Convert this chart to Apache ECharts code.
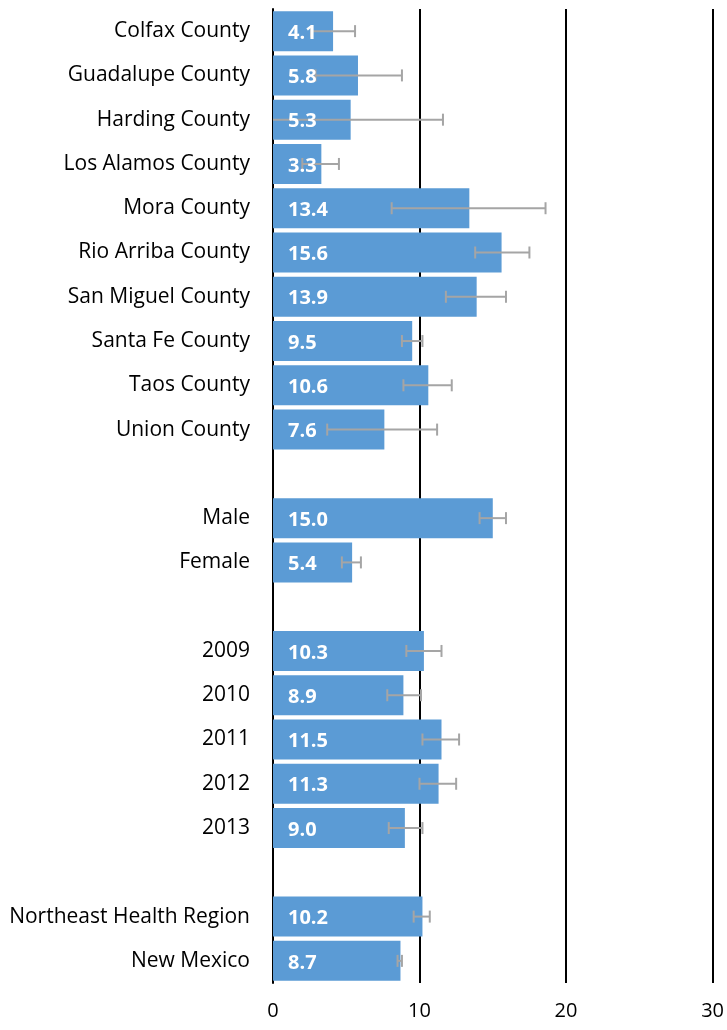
<!DOCTYPE html>
<html>
<head>
<meta charset="utf-8">
<script src="https://cdn.jsdelivr.net/npm/echarts@6/dist/echarts.min.js"></script>
<style>
  html, body { margin: 0; padding: 0; background: #fff; }
  #main { width: 727px; height: 1030px; }
</style>
</head>
<body>
<div id="main"></div>
<script>
// rows, top to bottom (blank strings are the gaps between groups)
var categories = [
  "Colfax County", "Guadalupe County", "Harding County", "Los Alamos County",
  "Mora County", "Rio Arriba County", "San Miguel County", "Santa Fe County",
  "Taos County", "Union County", " ",
  "Male", "Female", "  ",
  "2009", "2010", "2011", "2012", "2013", "   ",
  "Northeast Health Region", "New Mexico"
];
var values = [
  4.1, 5.8, 5.3, 3.3, 13.4, 15.6, 13.9, 9.5, 10.6, 7.6, null,
  15.0, 5.4, null,
  10.3, 8.9, 11.5, 11.3, 9.0, null,
  10.2, 8.7
];
// 95% confidence limits
var lower = [
  2.6, 2.9, 0, 2.0, 8.1, 13.8, 11.8, 8.8, 8.9, 3.7, null,
  14.1, 4.7, null,
  9.1, 7.8, 10.2, 10.0, 7.9, null,
  9.6, 8.5
];
var upper = [
  5.6, 8.8, 11.6, 4.5, 18.6, 17.5, 15.9, 10.2, 12.2, 11.2, null,
  15.9, 6.0, null,
  11.5, 10.1, 12.7, 12.5, 10.2, null,
  10.7, 8.8
];
var xTicks = [0, 10, 20, 30];

var FONT = "Open Sans";

var errData = categories.map(function (c, i) {
  return lower[i] == null ? [i, null, null] : [i, lower[i], upper[i]];
});

var chart = echarts.init(document.getElementById("main"));
chart.setOption({
  animation: false,
  grid: { left: 273, right: 14, top: 9, bottom: 47 },
  xAxis: {
    type: "value",
    min: xTicks[0],
    max: xTicks[xTicks.length - 1],
    interval: 10,
    axisLine: { show: false },
    axisTick: { show: false },
    axisLabel: { color: "#000", fontFamily: FONT, fontSize: 20, margin: 18 },
    splitLine: { lineStyle: { color: "#000", width: 2 } }
  },
  yAxis: {
    type: "category",
    inverse: true,
    data: categories,
    axisLine: { lineStyle: { color: "#000", width: 2 } },
    axisTick: { show: false },
    axisLabel: { color: "#000", fontFamily: FONT, fontSize: 21, margin: 23 }
  },
  series: [
    {
      type: "bar",
      data: values,
      barWidth: 40,
      itemStyle: { color: "#5B9BD5" },
      z: 2
    },
    {
      type: "custom",
      z: 3,
      data: errData,
      encode: { x: [1, 2], y: 0 },
      renderItem: function (params, api) {
        if (api.value(1) == null || isNaN(api.value(1))) return;
        var idx = api.value(0);
        var lo = api.coord([api.value(1), idx]);
        var hi = api.coord([api.value(2), idx]);
        var style = { stroke: "#A5A5A5", lineWidth: 2 };
        var h = 6;
        var children = [
          { type: "line", shape: { x1: lo[0], y1: lo[1], x2: hi[0], y2: hi[1] }, style: style },
          { type: "line", shape: { x1: hi[0], y1: hi[1] - h, x2: hi[0], y2: hi[1] + h }, style: style }
        ];
        if (api.value(1) > 0) {
          children.push({ type: "line", shape: { x1: lo[0], y1: lo[1] - h, x2: lo[0], y2: lo[1] + h }, style: style });
        }
        return { type: "group", children: children };
      }
    },
    {
      // transparent copy of the bars carrying the value labels above the error bars
      type: "bar",
      data: values,
      barWidth: 40,
      barGap: "-100%",
      itemStyle: { color: "rgba(0,0,0,0)" },
      z: 4,
      silent: true,
      label: {
        show: true,
        position: "insideLeft",
        distance: 15,
        offset: [0, 2],
        color: "#fff",
        fontFamily: FONT,
        fontWeight: "bold",
        fontSize: 20,
        formatter: function (p) { return p.value == null ? "" : p.value.toFixed(1); }
      }
    }
  ]
});
</script>
</body>
</html>
